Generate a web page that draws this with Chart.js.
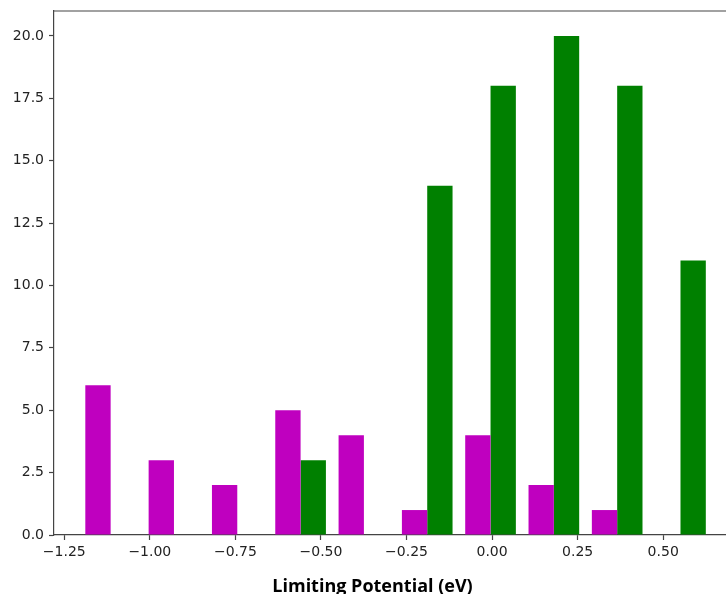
<!DOCTYPE html>
<html>
<head>
<meta charset="utf-8">
<script src="https://cdn.jsdelivr.net/npm/chart.js@4"></script>
<style>
  html, body { margin: 0; padding: 0; overflow: hidden; background: #fff; }
  #wrap { width: 751px; height: 598px; }
</style>
</head>
<body>
<div id="wrap"><canvas id="hist"></canvas></div>
<script>
// histogram bin edges (eV)
var binEdges = [-1.207, -1.022, -0.837, -0.652, -0.467, -0.282, -0.097, 0.088, 0.273, 0.458, 0.643];
var countsMagenta = [6, 3, 2, 5, 4, 1, 4, 2, 1, 0];
var countsGreen = [0, 0, 0, 3, 0, 14, 18, 20, 18, 11];
var xTicks = [-1.25, -1.00, -0.75, -0.50, -0.25, 0.00, 0.25, 0.50];
var yTicks = [0, 2.5, 5, 7.5, 10, 12.5, 15, 17.5, 20];

var centers = [];
for (var i = 0; i < binEdges.length - 1; i++) {
    centers.push((binEdges[i] + binEdges[i + 1]) / 2);
}

function fmt(v, d) {
    return v.toFixed(d).replace('-', '\u2212');
}

// top + right spines
const frame = {
    id: 'frame',
    afterDraw(chart) {
        const a = chart.chartArea, ctx = chart.ctx;
        ctx.save();
        ctx.strokeStyle = '#444';
        ctx.lineWidth = 1.2;
        ctx.beginPath();
        ctx.moveTo(a.left, a.top);
        ctx.lineTo(a.right, a.top);
        ctx.lineTo(a.right, a.bottom);
        ctx.stroke();
        ctx.restore();
    }
};

new Chart(document.getElementById('hist'), {
    type: 'bar',
    data: {
        datasets: [{
            data: centers.map((c, i) => ({ x: c, y: countsMagenta[i] })),
            backgroundColor: '#bf00bf'
        }, {
            data: centers.map((c, i) => ({ x: c, y: countsGreen[i] })),
            backgroundColor: '#008000'
        }]
    },
    options: {
        animation: false,
        responsive: true,
        maintainAspectRatio: false,
        categoryPercentage: 0.8,
        barPercentage: 1.0,
        layout: { padding: { top: 11, right: 6, left: 0, bottom: 0 } },
        plugins: {
            legend: { display: false },
            tooltip: { enabled: false },
            title: {
                display: true,
                position: 'bottom',
                text: 'Limiting Potential (eV)',
                color: '#000',
                font: { family: 'Open Sans', size: 18, weight: 'bold' },
                padding: { top: 8, bottom: 0 }
            }
        },
        scales: {
            x: {
                type: 'linear',
                offset: false,
                min: -1.28,
                max: 0.739,
                afterBuildTicks: s => { s.ticks = xTicks.map(v => ({ value: v })); },
                afterFit: s => { s.height = 33.4; s.paddingLeft = 0; s.paddingRight = 0; },
                grid: { offset: false, drawOnChartArea: false, tickLength: 5, tickColor: '#444', tickWidth: 1.2 },
                border: { color: '#444', width: 1.2 },
                ticks: {
                    padding: 4,
                    maxRotation: 0,
                    autoSkip: false,
                    color: '#222',
                    font: { family: 'DejaVu Sans', size: 14 },
                    callback: v => fmt(v, 2)
                }
            },
            y: {
                min: 0,
                max: 21,
                afterBuildTicks: s => { s.ticks = yTicks.map(v => ({ value: v })); },
                afterFit: s => { s.width = 54; s.paddingTop = 0; s.paddingBottom = 0; },
                grid: { drawOnChartArea: false, tickLength: 5, tickColor: '#444', tickWidth: 1.2 },
                border: { color: '#444', width: 1.2 },
                ticks: {
                    padding: 5,
                    color: '#222',
                    font: { family: 'DejaVu Sans', size: 14 },
                    callback: v => fmt(v, 1)
                }
            }
        }
    },
    plugins: [frame]
});
</script>
</body>
</html>
